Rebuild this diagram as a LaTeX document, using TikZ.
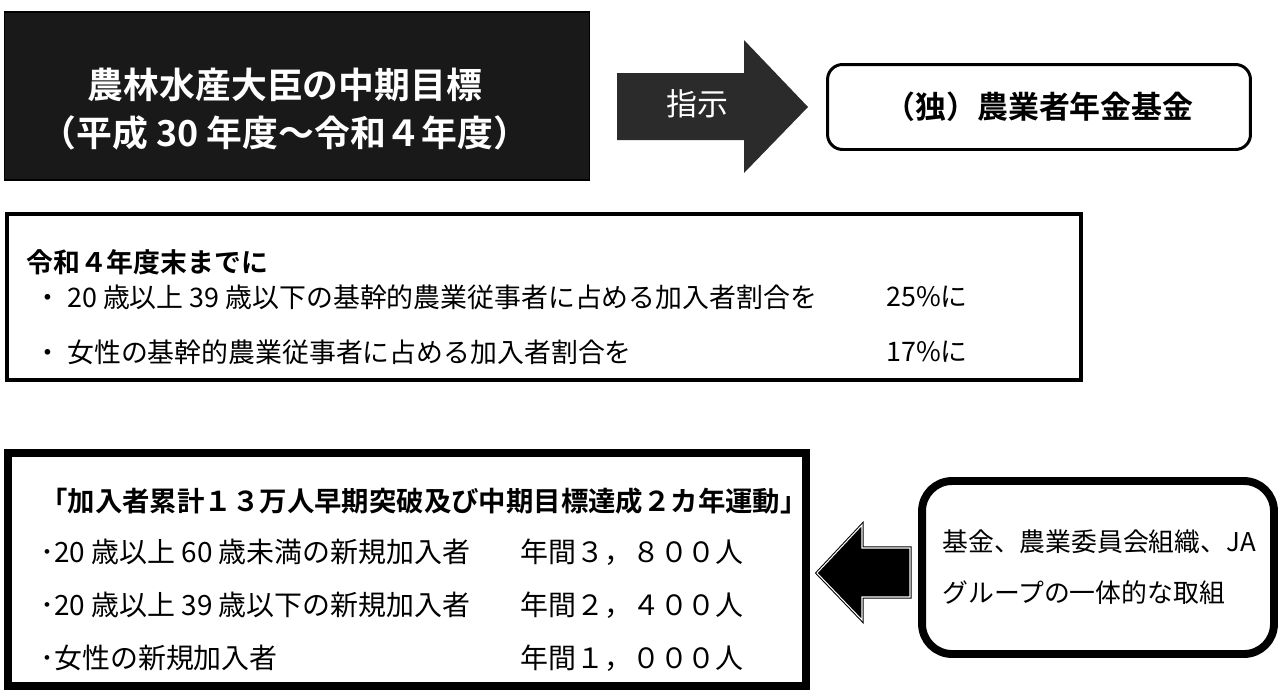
\documentclass[tikz,border=0pt]{standalone}
\usepackage{fontspec}
\setmainfont{Noto Sans CJK JP}[BoldFont={Noto Sans CJK JP Bold}]
\usepackage{tikz}
\definecolor{dgray}{rgb}{0.1,0.1,0.1}
\definecolor{mgray}{rgb}{0.17,0.17,0.17}

\begin{document}
\begin{tikzpicture}[x=0.02cm, y=-0.02cm,
	box/.style={draw=black, fill=white, inner sep=0pt},
	txt/.style={anchor=west, inner sep=0pt, font=\fontsize{15.3}{18}\selectfont},
	campline/.style={anchor=west, inner sep=0pt, font=\fontsize{15.9}{18}\selectfont},
	effline/.style={anchor=west, inner sep=0pt, font=\fontsize{14.7}{18}\selectfont}]
			\useasboundingbox (0,0) rectangle (1280,694);
			\node[box, fill=dgray, line width=0.6pt, minimum width=11.72cm, minimum height=3.36cm] (goal) at (297,96) {};
			\node[inner sep=0pt, text=white, align=center, font=\bfseries\fontsize{20.4}{27.2}\selectfont] (goaltxt) at (285,109) {農林水産大臣の中期目標\\（平成 30 年度～令和４年度）};
			\fill[mgray] (617,73) -- (744,73) -- (744,40) -- (808,107) -- (744,173) -- (744,140) -- (617,140) -- cycle;
			\node[inner sep=0pt, text=white, font=\fontsize{17.6}{20}\selectfont] (order) at (697,104) {指示};
			\node[box, line width=1.7pt, rounded corners=0.3cm, minimum width=8.46cm, minimum height=1.7cm, font=\bfseries\fontsize{17.6}{20}\selectfont] (fund) at (1039,107) {（独）農業者年金基金};
			\node[box, line width=2.3pt, minimum width=21.48cm, minimum height=3.32cm] (target) at (544,297) {};
			\node[txt, font=\bfseries\fontsize{15.3}{18}\selectfont] (tgthead) at (26,262) {令和４年度末までに};
			\node[txt] (tgtyoung) at (34,297) {・ 20 歳以上 39 歳以下の基幹的農業従事者に占める加入者割合を};
			\node[txt] (tgtwomen) at (34,352) {・ 女性の基幹的農業従事者に占める加入者割合を};
			\node[txt, anchor=east] (rateyoung) at (968,297) {25\%に};
			\node[txt, anchor=east] (ratewomen) at (968,352) {17\%に};
			\node[box, line width=4.5pt, minimum width=15.96cm, minimum height=4.66cm] (campaign) at (407,569.5) {};
			\node[campline, font=\bfseries\fontsize{15.6}{18}\selectfont] (camphead) at (40,501) {「加入者累計１３万人早期突破及び中期目標達成２カ年運動」};
			\node[campline] (campall) at (40,552) {･20 歳以上 60 歳未満の新規加入者};
			\node[campline] (campyoung) at (40,605) {･20 歳以上 39 歳以下の新規加入者};
			\node[campline] (campwomen) at (40,658) {･女性の新規加入者};
			\node[campline] (numall) at (520,552) {年間３，８００人};
			\node[campline] (numyoung) at (520,605) {年間２，４００人};
			\node[campline] (numwomen) at (520,658) {年間１，０００人};
			\node[box, line width=4.5pt, rounded corners=0.6cm, minimum width=7.04cm, minimum height=3.46cm] (effort) at (1098,567.5) {};
			\node[effline] (efftop) at (942,542) {基金、農業委員会組織、JA};
			\node[effline] (effbot) at (942,593) {グループの一体的な取組};
			\draw[fill=black, line width=0.6pt, double=white, double distance=0.6pt] (817,573) -- (862,525) -- (862,548) -- (910,548) -- (910,597) -- (862,597) -- (862,620) -- cycle;
		\end{tikzpicture}
\end{document}
